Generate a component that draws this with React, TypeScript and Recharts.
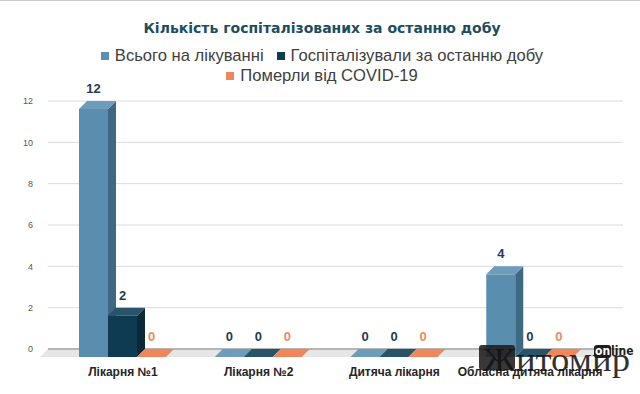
import React from 'react';
import { BarChart, Bar, XAxis, YAxis, CartesianGrid, LabelList, ReferenceLine } from 'recharts';

// Hospital categories and daily figures
const categories = ['Лікарня №1', 'Лікарня №2', 'Дитяча лікарня', 'Обласна дитяча лікарня'];
const totalTreated = [12, 0, 0, 4];
const admittedLastDay = [2, 0, 0, 0];
const diedCovid = [0, 0, 0, 0];
const yTicks = [0, 2, 4, 6, 8, 10, 12];
const seriesNames = ['Всього на лікуванні', 'Госпіталізували за останню добу', 'Померли від COVID-19'];
const chartTitle = 'Кількість госпіталізованих за останню добу';

const data = categories.map((name, i) => ({
  name,
  total: totalTreated[i],
  admitted: admittedLastDay[i],
  died: diedCovid[i],
}));

const DEPTH = 8;
const FONT = '"Liberation Sans", Arial, sans-serif';

type Palette = { front: string; top: string; side: string; label: string; legend: string };

const palettes: Palette[] = [
  { front: '#5a8eae', top: '#6d9dbb', side: '#3d6983', label: '#1f3d50', legend: '#5b8fae' },
  { front: '#0e3b51', top: '#285469', side: '#0a2a39', label: '#1f3d50', legend: '#0f3c52' },
  { front: '#ef8459', top: '#f0875b', side: '#c7683f', label: '#ec8a60', legend: '#f0845a' },
];

const seriesKeys = ['total', 'admitted', 'died'];

// Box-shaped bar: front face, right side and top face shifted by DEPTH
const makeBox = (p: Palette) => (props: any) => {
  const { x, y, width, height } = props;
  const d = DEPTH;
  const h = Math.max(0, height || 0);
  const frontTop = y + d;
  const frontBottom = y + h + d;
  const right = x + width;
  return (
    <g>
      {h > 0 && <rect x={x} y={frontTop} width={width} height={h} fill={p.front} />}
      {h > 0 && (
        <polygon
          points={`${right},${frontTop} ${right + d},${y} ${right + d},${y + h} ${right},${frontBottom}`}
          fill={p.side}
        />
      )}
      <polygon
        points={`${x},${frontTop} ${x + d},${y} ${right + d},${y} ${right},${frontTop}`}
        fill={p.top}
      />
    </g>
  );
};

const makeValueLabel = (color: string) => (props: any) => {
  const { x, y, width, value } = props;
  return (
    <text
      x={Number(x) + Number(width) / 2}
      y={Number(y) - 8}
      textAnchor="middle"
      fill={color}
      fontFamily={FONT}
      fontWeight="bold"
      fontSize={13}
    >
      {value}
    </text>
  );
};

const CategoryTick = (props: any) => {
  const { x, y, payload } = props;
  return (
    <text x={x} y={y + 27} textAnchor="middle" fill="#262626" fontFamily={FONT} fontWeight="bold" fontSize={12}>
      {payload.value}
    </text>
  );
};

// Floor strip under the bars, drawn along the zero line
const Floor = (props: any) => {
  const x1 = props.x1 ?? props.points?.[0]?.x;
  const y1 = props.y1 ?? props.points?.[0]?.y;
  const x2 = props.x2 ?? props.points?.[1]?.x;
  const d = DEPTH;
  if (x1 == null || y1 == null || x2 == null) return null;
  return (
    <g>
      <polygon points={`${x1},${y1} ${x2},${y1} ${x2 - d},${y1 + d} ${x1 - d},${y1 + d}`} fill="#e6e6e6" />
      <line x1={x1} y1={y1} x2={x2} y2={y1} stroke="#a3a3a3" strokeWidth={1.5} />
    </g>
  );
};

export default function App() {
  return (
    <div
      style={{
        position: 'absolute',
        left: 0,
        top: 0,
        width: 640,
        height: 394,
        background: '#ffffff',
        overflow: 'hidden',
        fontFamily: FONT,
        borderTop: '1px solid #c9c9c9',
        boxSizing: 'border-box',
      }}
    >
      <BarChart
        width={640}
        height={393}
        data={data}
        margin={{ top: 100, right: 17, left: 0, bottom: 0 }}
        barGap={0}
        barSize={29}
      >
        <CartesianGrid vertical={false} stroke="#dcdcdc" />
        <ReferenceLine y={0} shape={<Floor />} zIndex={-10} />
        <XAxis
          dataKey="name"
          axisLine={false}
          tickLine={false}
          tickSize={0}
          tickMargin={0}
          height={45}
          padding={{ left: 7, right: 25 }}
          tick={<CategoryTick />}
          interval={0}
        />
        <YAxis
          domain={[0, 12]}
          ticks={yTicks}
          axisLine={false}
          tickLine={false}
          tickSize={0}
          tickMargin={15}
          width={48}
          tick={{ fontSize: 9, fill: '#595959', fontFamily: FONT }}
        />
        {seriesKeys.map((key, i) => (
          <Bar
            key={key}
            dataKey={key}
            name={seriesNames[i]}
            fill={palettes[i].front}
            shape={makeBox(palettes[i])}
            isAnimationActive={false}
          >
            <LabelList dataKey={key} content={makeValueLabel(palettes[i].label)} />
          </Bar>
        ))}
      </BarChart>

      <div
        style={{
          position: 'absolute',
          left: 0,
          top: 18,
          width: 644,
          textAlign: 'center',
          fontFamily: '"DejaVu Sans", Verdana, sans-serif',
          fontSize: 14,
          fontWeight: 'bold',
          color: '#1d4e60',
          lineHeight: '18px',
        }}
      >
        {chartTitle}
      </div>

      <div
        style={{
          position: 'absolute',
          left: 70,
          top: 45,
          width: 504,
          display: 'flex',
          flexWrap: 'wrap',
          justifyContent: 'center',
          columnGap: 13,
          fontSize: 16.6,
          color: '#404040',
          lineHeight: '20px',
        }}
      >
        {seriesNames.map((name, i) => (
          <span key={name} style={{ display: 'inline-flex', alignItems: 'center', whiteSpace: 'nowrap' }}>
            <span
              style={{
                display: 'inline-block',
                width: 8,
                height: 8,
                background: palettes[i].legend,
                marginRight: 6,
              }}
            />
            {name}
          </span>
        ))}
      </div>

      {/* site watermark */}
      <div style={{ position: 'absolute', left: 479, top: 344, width: 36, height: 25, borderRadius: 3, background: 'rgba(28,28,28,0.88)' }} />
      <div
        style={{
          position: 'absolute',
          left: 483,
          top: 341,
          fontFamily: '"Liberation Serif", "DejaVu Serif", serif',
          fontSize: 34,
          lineHeight: '36px',
          color: 'rgba(20,20,20,0.88)',
          transform: 'scaleX(1.08)',
          transformOrigin: 'left top',
          whiteSpace: 'nowrap',
        }}
      >
        Житомир
      </div>
      <div
        style={{
          position: 'absolute',
          left: 594,
          top: 344,
          fontFamily: '"DejaVu Sans Condensed", "DejaVu Sans", sans-serif',
          fontWeight: 'bold',
          fontSize: 12,
          lineHeight: '13px',
          color: '#1e1e1e',
          display: 'flex',
        }}
      >
        <span style={{ background: '#1e1e1e', color: '#ffffff', borderRadius: 3, padding: '0 1px' }}>on</span>
        <span>line</span>
      </div>
    </div>
  );
}
